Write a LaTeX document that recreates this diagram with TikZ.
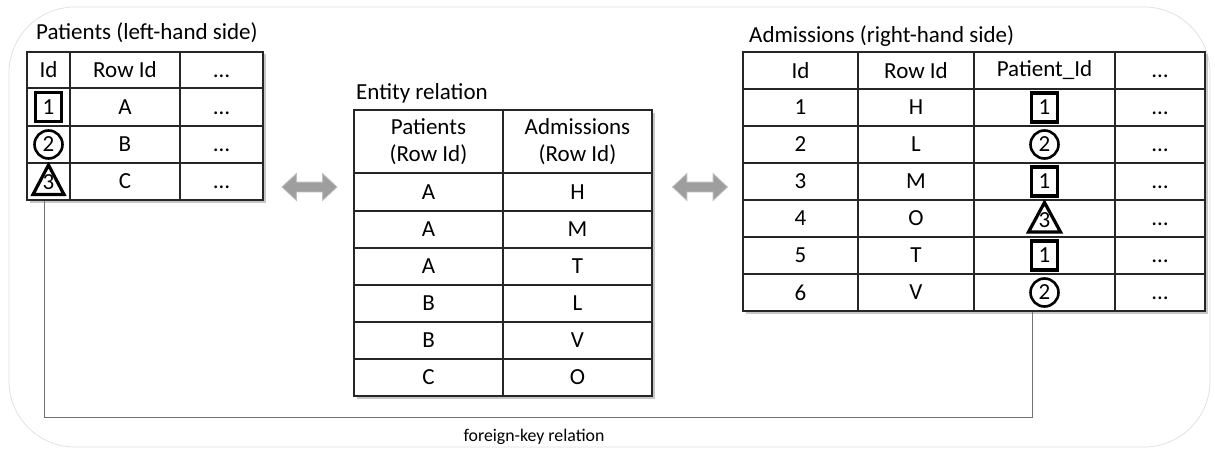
\documentclass[tikz,border=0pt]{standalone}
\usepackage{fontspec}
\setmainfont{Carlito}
\usetikzlibrary{shapes.arrows,calc}
\tikzset{
  cell/.style={draw=black!85, line width=1.3pt, fill=white, inner sep=0pt, font=\fontsize{23}{27}\selectfont, align=center},
  title/.style={anchor=west, inner sep=0pt, font=\fontsize{23}{27}\selectfont},
  sym/.style={line width=3.2pt, draw=black},
  sqsym/.style={sym, rectangle, minimum width=26pt, minimum height=29pt, inner sep=0pt, font=\fontsize{23}{27}\selectfont},
  cisym/.style={sym, circle, line width=2.6pt, minimum size=28pt, inner sep=0pt, font=\fontsize{23}{27}\selectfont},
  digit/.style={inner sep=0pt, font=\fontsize{23}{27}\selectfont},
  fatarrow/.style={double arrow, draw=black!25, fill=black!38, line width=0.8pt, inner sep=4.5pt, minimum height=55pt, double arrow head extend=8.5pt, double arrow tip angle=86},
  shadowbox/.style={fill=black!22},
  fkline/.style={draw=black!55, line width=0.9pt},
  fklabel/.style={inner sep=0pt, font=\fontsize{17.8}{20}\selectfont}
}
\newcommand\tcell[6]{\node[cell, minimum width={(#4-#2)*1pt}, minimum height={(#5-#3)*1pt}] (#1) at ({(#2+#4)/2},{(#3+#5)/2}) {\vphantom{A}#6};}
\begin{document}
\begin{tikzpicture}[x=1pt,y=-1pt]
\useasboundingbox (0,0) rectangle (1215,452);
% background frame
\draw[black!13, line width=0.7pt, rounded corners=66pt] (9,7) rectangle (1210,447);

% ---------- left table ----------
\node[title] (ltitle) at (36,33) {Patients (left-hand side)};
\fill[shadowbox] (29.5,54.5) rectangle (265.5,202.5);
\tcell{L-0-1}{27}{52}{70}{88}{Id}
\tcell{L-0-2}{70}{52}{180}{88}{Row Id}
\tcell{L-0-3}{180}{52}{263}{88}{…}
\tcell{L-1-1}{27}{88}{70}{126}{}
\tcell{L-1-2}{70}{88}{180}{126}{A}
\tcell{L-1-3}{180}{88}{263}{126}{…}
\tcell{L-2-1}{27}{126}{70}{163}{}
\tcell{L-2-2}{70}{126}{180}{163}{B}
\tcell{L-2-3}{180}{126}{263}{163}{…}
\tcell{L-3-1}{27}{163}{70}{200}{}
\tcell{L-3-2}{70}{163}{180}{200}{C}
\tcell{L-3-3}{180}{163}{263}{200}{…}
\node[sqsym] (ls1) at (L-1-1) {1};
\node[cisym] (ls2) at (L-2-1) {2};
\draw[sym, line join=miter, shift={(L-3-1.center)}] (0,-16.5) -- (15.5,13) -- (-15.5,13) -- cycle;
\node[digit] (ls3) at ($(L-3-1)+(0,1)$) {3};

% ---------- middle table ----------
\node[title] (mtitle) at (356,93) {Entity relation};
\fill[shadowbox] (356.5,112.5) rectangle (654.5,398.5);
\tcell{M-0-1}{354}{110}{503}{173}{Patients\\(Row Id)}
\tcell{M-0-2}{503}{110}{652}{173}{Admissions\\(Row Id)}
\tcell{M-1-1}{354}{173}{503}{211}{A}
\tcell{M-1-2}{503}{173}{652}{211}{H}
\tcell{M-2-1}{354}{211}{503}{248}{A}
\tcell{M-2-2}{503}{211}{652}{248}{M}
\tcell{M-3-1}{354}{248}{503}{285}{A}
\tcell{M-3-2}{503}{248}{652}{285}{T}
\tcell{M-4-1}{354}{285}{503}{322}{B}
\tcell{M-4-2}{503}{285}{652}{322}{L}
\tcell{M-5-1}{354}{322}{503}{359}{B}
\tcell{M-5-2}{503}{322}{652}{359}{V}
\tcell{M-6-1}{354}{359}{503}{396}{C}
\tcell{M-6-2}{503}{359}{652}{396}{O}

% ---------- right table ----------
\node[title] (rtitle) at (749,36) {Admissions (right-hand side)};
\fill[shadowbox] (745.5,54.5) rectangle (1207.5,313.5);
\tcell{R-0-1}{743}{52}{858}{89}{Id}
\tcell{R-0-2}{858}{52}{974}{89}{Row Id}
\tcell{R-0-3}{974}{52}{1115}{89}{Patient\_Id}
\tcell{R-0-4}{1115}{52}{1205}{89}{…}
\tcell{R-1-1}{743}{89}{858}{126}{1}
\tcell{R-1-2}{858}{89}{974}{126}{H}
\tcell{R-1-3}{974}{89}{1115}{126}{}
\tcell{R-1-4}{1115}{89}{1205}{126}{…}
\tcell{R-2-1}{743}{126}{858}{163}{2}
\tcell{R-2-2}{858}{126}{974}{163}{L}
\tcell{R-2-3}{974}{126}{1115}{163}{}
\tcell{R-2-4}{1115}{126}{1205}{163}{…}
\tcell{R-3-1}{743}{163}{858}{200}{3}
\tcell{R-3-2}{858}{163}{974}{200}{M}
\tcell{R-3-3}{974}{163}{1115}{200}{}
\tcell{R-3-4}{1115}{163}{1205}{200}{…}
\tcell{R-4-1}{743}{200}{858}{237}{4}
\tcell{R-4-2}{858}{200}{974}{237}{O}
\tcell{R-4-3}{974}{200}{1115}{237}{}
\tcell{R-4-4}{1115}{200}{1205}{237}{…}
\tcell{R-5-1}{743}{237}{858}{274}{5}
\tcell{R-5-2}{858}{237}{974}{274}{T}
\tcell{R-5-3}{974}{237}{1115}{274}{}
\tcell{R-5-4}{1115}{237}{1205}{274}{…}
\tcell{R-6-1}{743}{274}{858}{311}{6}
\tcell{R-6-2}{858}{274}{974}{311}{V}
\tcell{R-6-3}{974}{274}{1115}{311}{}
\tcell{R-6-4}{1115}{274}{1205}{311}{…}
\node[sqsym] (rs1) at (R-1-3) {1};
\node[cisym] (rs2) at (R-2-3) {2};
\node[sqsym] (rs3) at (R-3-3) {1};
\draw[sym, line join=miter, shift={(R-4-3.center)}] (0,-16) -- (16,13.5) -- (-16,13.5) -- cycle;
\node[digit] (rs4) at ($(R-4-3)+(0,1.5)$) {3};
\node[sqsym] (rs5) at (R-5-3) {1};
\node[cisym] (rs6) at (R-6-3) {2};

% ---------- relation arrows ----------
\node[fatarrow] (a1) at (309.5,187) {};
\node[fatarrow] (a2) at (700,187) {};

% ---------- foreign key ----------
\coordinate (fkL) at ($(L-3-1.south)+(-4,0)$);
\coordinate (fkR) at ($(R-6-3.south)+(-12.5,0)$);
\draw[fkline] (fkL) |- (1032,417) -- (fkR);
\node[fklabel] (fk) at (534,437) {foreign-key relation};
\end{tikzpicture}
\end{document}
